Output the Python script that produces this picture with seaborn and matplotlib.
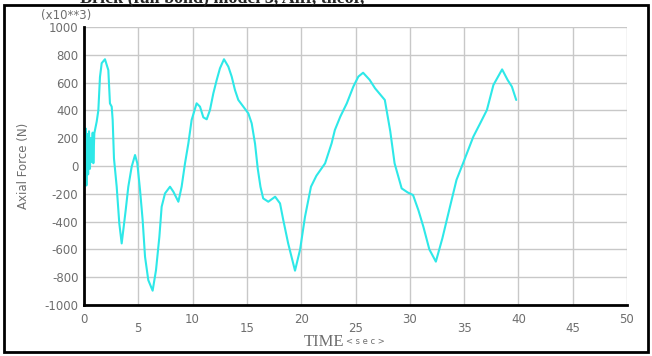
import matplotlib
matplotlib.use("Agg")
import matplotlib.pyplot as plt
import seaborn as sns
import pandas as pd
from matplotlib.patches import Rectangle

# time history (force in units of 10**3 N)
time = [0.05, 0.15, 0.22, 0.30, 0.38, 0.46, 0.55, 0.62, 0.70, 0.80, 0.86, 0.95,
        1.17, 1.32, 1.47, 1.63, 1.93, 2.24, 2.39, 2.55, 2.64, 2.76, 3.01, 3.25,
        3.47, 3.62, 3.84, 4.08, 4.39, 4.70, 4.91, 5.16, 5.40, 5.62, 5.92, 6.32,
        6.63, 6.94, 7.15, 7.46, 7.92, 8.23, 8.69, 8.99, 9.30, 9.61, 9.91, 10.37,
        10.68, 10.99, 11.30, 11.60, 11.91, 12.22, 12.52, 12.89, 13.29, 13.60,
        13.90, 14.21, 14.67, 15.13, 15.44, 15.75, 16.00, 16.25, 16.50, 16.97,
        17.60, 18.05, 18.35, 18.80, 19.43, 19.90, 20.35, 20.90, 21.40, 22.20,
        22.80, 23.10, 23.60, 24.20, 24.80, 25.26, 25.70, 26.30, 26.80, 27.70,
        28.20, 28.60, 29.25, 29.80, 30.30, 30.80, 31.25, 31.80, 32.40, 33.00,
        33.70, 34.30, 34.90, 35.40, 35.85, 36.50, 37.10, 37.70, 38.50, 39.00,
        39.40, 39.80]
force = [-100, 270, -140, 230, -60, 250, -20, 200, 30, 240, 20, 235,
         320, 400, 640, 740, 768, 690, 450, 427, 331, 55, -149, -413,
         -557, -460, -317, -149, -5, 79, 19, -173, -389, -653, -821, -897,
         -749, -509, -293, -197, -149, -185, -257, -149, 19, 163, 331, 451,
         427, 350, 336, 403, 523, 619, 703, 768, 715,
         643, 547, 475, 427, 379, 307, 160, -20, -150, -233, -257,
         -221, -269, -389, -557, -753, -600, -365, -149, -70, 19,
         163, 259, 355, 451, 571, 643, 671, 620, 559, 475,
         250, 19, -161, -190, -209, -320, -437, -600, -688, -520,
         -293, -100, 19, 120, 211, 310, 403, 583, 695, 620,
         571, 475]

x_ticks = [0, 5, 10, 15, 20, 25, 30, 35, 40, 45, 50]
y_ticks = [-1000, -800, -600, -400, -200, 0, 200, 400, 600, 800, 1000]

df = pd.DataFrame({"time": time, "force": force})

sns.set_style("white")
plt.rcParams['font.family'] = ['DejaVu Sans']

fig = plt.figure(figsize=(6.52, 3.56), dpi=100)
ax = fig.add_axes([84 / 652, 1 - 305 / 356, (627 - 84) / 652, (305 - 27) / 356])

sns.lineplot(data=df, x="time", y="force", ax=ax, color="#2ee8e8", lw=1.5,
             sort=False, estimator=None)

ax.set_xlim(0, 50)
ax.set_ylim(-1000, 1000)
ax.set_xticks(x_ticks)
ax.set_yticks(y_ticks)
ax.set_xticklabels([str(v) for v in x_ticks])
ax.set_yticklabels([str(v) for v in y_ticks])
ax.grid(True, color="#c8c8c8", lw=1)
ax.set_axisbelow(True)

grey = "#6e6e6e"
ax.tick_params(axis="x", colors="#c8c8c8", length=7, width=1, labelcolor=grey,
               labelsize=8.5, pad=-1)
ax.tick_params(axis="y", colors="#c8c8c8", length=2, width=1, labelcolor=grey,
               labelsize=8.5, pad=2)
# staggered time labels
for i, lab in enumerate(ax.get_xticklabels()):
    if i % 2 == 1:
        lab.set_y(-0.03)

for side in ["top", "right"]:
    ax.spines[side].set_visible(False)
for side in ["left", "bottom"]:
    ax.spines[side].set_color("black")
    ax.spines[side].set_linewidth(2)

ax.set_xlabel("")
ax.set_ylabel("Axial Force (N)", color=grey, fontsize=8.5)
ax.yaxis.set_label_coords(-0.1, 0.5)

fig.text(66 / 652, 1 - 16 / 356, "(x10**3)", color=grey, fontsize=8.5,
         ha="center", va="center")
fig.text(344 / 652, 1 - 342 / 356, "TIME", family="Liberation Serif",
         color=grey, fontsize=12, ha="right", va="center")
fig.text(346 / 652, 1 - 341 / 356, "< s e c >", color=grey, fontsize=6,
         ha="left", va="center")

# title, partly cut off at the top as in the source screenshot
fig.text(80 / 652, 1 - 3 / 356, "Brick (full bond) model 3, Aiff, theor,",
         family="Liberation Serif", weight="bold", fontsize=13,
         ha="left", va="baseline")

fig.patches.append(Rectangle((4 / 652, 4 / 356), 644 / 652, 347 / 356,
                             transform=fig.transFigure, fill=False,
                             edgecolor="black", lw=2))

fig.savefig("out.png", dpi=100)
